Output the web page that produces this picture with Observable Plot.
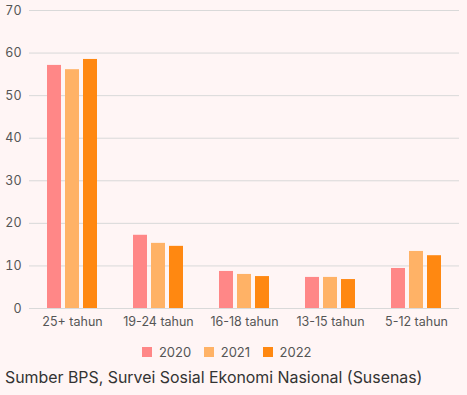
<!DOCTYPE html>
<html>
<head>
<meta charset="utf-8">
<script src="https://cdn.jsdelivr.net/npm/d3@7"></script>
<script src="https://cdn.jsdelivr.net/npm/@observablehq/plot@0.6"></script>
<style>
  html, body { margin: 0; padding: 0; background: #fff5f5; }
  body { width: 467px; height: 395px; font-family: Inter, "Noto Sans", sans-serif; position: relative; overflow: hidden; }
  #chart { position: absolute; left: 0; top: 0; }
  #legend { position: absolute; left: 0; width: 467px; top: 335px; display: flex; justify-content: center; }
  #legend > * { margin: 0 !important; }
  #caption { position: absolute; left: 5px; top: 368px; font-size: 15.9px; line-height: 20px; color: #333; white-space: nowrap; }
</style>
</head>
<body>
<div id="chart"></div>
<div id="legend"></div>
<div id="caption">Sumber BPS, Survei Sosial Ekonomi Nasional (Susenas)</div>
<script>
const categories = ["25+ tahun", "19-24 tahun", "16-18 tahun", "13-15 tahun", "5-12 tahun"];
const years = ["2020", "2021", "2022"];
const v2020 = [57.1, 17.2, 8.7, 7.3, 9.4];
const v2021 = [56.1, 15.3, 8.0, 7.3, 13.4];
const v2022 = [58.5, 14.6, 7.5, 6.8, 12.4];
const yTicks = [0, 10, 20, 30, 40, 50, 60, 70];
const colors = ["#ff8787", "#ffb266", "#ff8811"];

const series = [v2020, v2021, v2022];
const data = [];
categories.forEach((c, i) => {
  years.forEach((y, j) => data.push({category: c, year: y, value: series[j][i]}));
});

const chart = Plot.plot({
  width: 467,
  height: 335,
  marginTop: 10,
  marginBottom: 27,
  marginLeft: 28,
  marginRight: 7,
  style: {background: "transparent", fontFamily: "Inter, 'Noto Sans', sans-serif", fontSize: "12.5px", color: "#555"},
  fx: {domain: categories, padding: 0, label: null, tickSize: 0, tickPadding: 9, axis: "bottom"},
  x: {domain: years, axis: null, paddingInner: 0.21, paddingOuter: 0.88},
  y: {domain: [0, 70], ticks: yTicks, label: null, tickSize: 0, tickPadding: 8},
  color: {domain: years, range: colors},
  marks: [
    Plot.ruleY(yTicks, {stroke: "#d9d9d9", strokeWidth: 1}),
    Plot.barY(data, {fx: "category", x: "year", y: "value", fill: "year"})
  ]
});
document.getElementById("chart").appendChild(chart);

const legend = Plot.legend({
  color: {domain: years, range: colors},
  swatchSize: 10,
  style: {fontFamily: "Inter, 'Noto Sans', sans-serif", fontSize: "13px", color: "#555", background: "transparent"}
});
document.getElementById("legend").appendChild(legend);
</script>
</body>
</html>
